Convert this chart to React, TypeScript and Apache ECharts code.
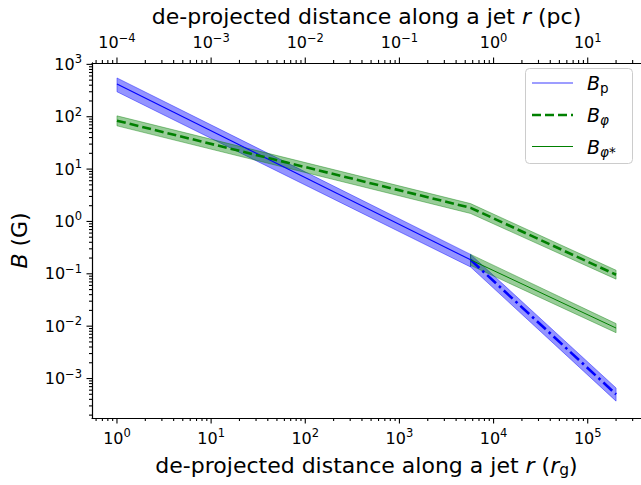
import React, { useEffect, useRef } from "react";
import * as echarts from "echarts";

// ---- axis ticks / labels ----
const rgTicks = [1, 10, 100, 1000, 1e4, 1e5];
const pcTicks = [1e-4, 1e-3, 1e-2, 1e-1, 1, 10];
const bTicks = [1e-3, 1e-2, 1e-1, 1, 10, 100, 1000];
const rgToPc = 1e-4;

// ---- data ----
// B_p, inner part (solid)
const rInner = [1, 5700];
const bpInner = [424, 0.185];
const bpInnerLo = [300, 0.135];
const bpInnerHi = [550, 0.235];
// B_p, outer part (dash-dot)
const rOuter = [5700, 2e5];
const bpOuter = [0.185, 5.0e-4];
const bpOuterLo = [0.135, 3.7e-4];
const bpOuterHi = [0.235, 6.6e-4];
// B_phi (dashed)
const rPhi = [1, 5700, 2e5];
const bphi = [84, 1.82, 0.096];
const bphiLo = [67, 1.42, 0.079];
const bphiHi = [104, 2.19, 0.117];
// B_phi* (thin solid)
const rPhiStar = [5700, 2e5];
const bphiStar = [0.185, 9.2e-3];
const bphiStarLo = [0.145, 7.5e-3];
const bphiStarHi = [0.235, 0.0112];

const xMin = 0.543;
const xMax = 3.68e5;
const yMin = 1.762e-4;
const yMax = 1067;

const FONT = "DejaVu Sans";
const BLUE = "#0000ff";
const GREEN = "#008000";
const BLUE_FILL = "rgba(0,0,255,0.42)";
const GREEN_FILL = "rgba(0,128,0,0.4)";

function pairs(xs: number[], ys: number[]) {
  return xs.map((x, i) => [x, ys[i]]);
}

function bandSeries(xs: number[], lo: number[], hi: number[], fill: string) {
  return {
    type: "custom",
    xAxisIndex: 0,
    yAxisIndex: 0,
    silent: true,
    z: 1,
    data: [[xs[0], lo[0]]],
    renderItem: (params: any, api: any) => {
      const pts: number[][] = [];
      for (let i = 0; i < xs.length; i++) pts.push(api.coord([xs[i], lo[i]]));
      for (let i = xs.length - 1; i >= 0; i--) pts.push(api.coord([xs[i], hi[i]]));
      return {
        type: "polygon",
        shape: { points: pts },
        style: { fill, stroke: fill, lineWidth: 1 },
      };
    },
  };
}

function minorValues(lo: number, hi: number) {
  const out: number[] = [];
  for (let e = -6; e <= 6; e++) {
    for (let m = 2; m <= 9; m++) {
      const v = m * Math.pow(10, e);
      if (v > lo && v < hi) out.push(v);
    }
  }
  return out;
}

const tickSeries = {
  type: "custom",
  xAxisIndex: 0,
  yAxisIndex: 0,
  silent: true,
  clip: false,
  z: 5,
  data: [[1, 1]],
  renderItem: (params: any, api: any) => {
    const cs = params.coordSys;
    const children: any[] = [];
    const bottom = cs.y + cs.height;
    const top = cs.y;
    const left = cs.x;
    const st = { stroke: "#000", lineWidth: 1.1 };
    const addX = (v: number, len: number) => {
      const x = api.coord([v, 1])[0];
      if (x < left - 0.5 || x > 641) return;
      children.push({ type: "line", shape: { x1: x, y1: bottom, x2: x, y2: bottom + len }, style: st });
      children.push({ type: "line", shape: { x1: x, y1: top, x2: x, y2: top - len }, style: st });
    };
    const addY = (v: number, len: number) => {
      const y = api.coord([1, v])[1];
      if (y < top - 0.5 || y > bottom + 0.5) return;
      children.push({ type: "line", shape: { x1: left, y1: y, x2: left - len, y2: y }, style: st });
    };
    rgTicks.forEach((v) => addX(v, 5.5));
    minorValues(xMin, xMax).forEach((v) => addX(v, 3));
    bTicks.forEach((v) => addY(v, 5.5));
    minorValues(yMin, yMax).forEach((v) => addY(v, 3));
    return { type: "group", children };
  },
};

const supLabel = (v: number) => {
  const e = Math.round(Math.log10(v));
  const s = e < 0 ? "\u2212" + Math.abs(e) : String(e);
  return "{n|10}{e|" + s + "}";
};
const labelRich = {
  n: { fontFamily: FONT, fontSize: 16, lineHeight: 22, color: "#000" },
  e: { fontFamily: FONT, fontSize: 11.5, lineHeight: 12, verticalAlign: "top", color: "#000" },
};
const nameRich = {
  t: { fontFamily: FONT, fontSize: 22, lineHeight: 26, color: "#000" },
  i: { fontFamily: FONT, fontSize: 22, lineHeight: 26, fontStyle: "italic", color: "#000" },
  s: { fontFamily: FONT, fontSize: 15.5, lineHeight: 16, verticalAlign: "bottom", color: "#000" },
};
const legRich = {
  b: { fontFamily: FONT, fontSize: 19, lineHeight: 24, fontStyle: "italic", color: "#000" },
  s: { fontFamily: FONT, fontSize: 13.5, lineHeight: 14, verticalAlign: "bottom", color: "#000" },
  si: { fontFamily: FONT, fontSize: 13.5, lineHeight: 14, verticalAlign: "bottom", fontStyle: "italic", color: "#000" },
};

const axisLine = { show: true, lineStyle: { color: "#000", width: 1.2 } };

const mkLabel = (vals: number[], margin: number) => ({
  showMinLabel: true,
  showMaxLabel: true,
  hideOverlap: false,
  margin,
  formatter: supLabel,
  rich: labelRich,
  customValues: vals,
});

export default function App() {
  const ref = useRef<HTMLDivElement>(null);
  useEffect(() => {
    if (!ref.current) return;
    const chart = echarts.init(ref.current, undefined, { renderer: "svg" });
    const legY = [83, 115, 146.5];
    chart.setOption({
      animation: false,
      backgroundColor: "#fff",
      grid: { left: 88, top: 58, width: 557, height: 360, containLabel: false },
      xAxis: [
        {
          type: "log",
          position: "bottom",
          min: xMin,
          max: xMax,
          logBase: 10,
          axisLine,
          axisTick: { show: false },
          splitLine: { show: false },
          axisLabel: mkLabel(rgTicks, 9),
          name: "{t|de-projected distance along a jet }{i|r}{t| (}{i|r}{s|g}{t|)}",
          nameLocation: "middle",
          nameGap: 34,
          nameTextStyle: { rich: nameRich },
        },
        {
          type: "log",
          position: "top",
          min: xMin * rgToPc,
          max: xMax * rgToPc,
          logBase: 10,
          axisLine,
          axisTick: { show: false },
          splitLine: { show: false },
          axisLabel: mkLabel(pcTicks, 9),
          name: "{t|de-projected distance along a jet }{i|r}{t| (pc)}",
          nameLocation: "middle",
          nameGap: 29,
          nameTextStyle: { rich: nameRich },
        },
      ],
      yAxis: {
        type: "log",
        min: yMin,
        max: yMax,
        logBase: 10,
        axisLine,
        axisTick: { show: false },
        splitLine: { show: false },
        axisLabel: mkLabel(bTicks, 10),
        name: "{i|B}{t| (G)}",
        nameLocation: "middle",
        nameGap: 60,
        nameRotate: 90,
        nameTextStyle: { rich: nameRich },
      },
      graphic: [
        {
          type: "rect",
          z: 100,
          shape: { x: 525.5, y: 68.5, width: 107, height: 95, r: 4 },
          style: { fill: "rgba(255,255,255,0.8)", stroke: "#cccccc", lineWidth: 1 },
        },
        {
          type: "line",
          z: 101,
          shape: { x1: 532, y1: legY[0], x2: 573, y2: legY[0] },
          style: { stroke: "#3c3cff", lineWidth: 1.2 },
        },
        {
          type: "line",
          z: 101,
          shape: { x1: 532, y1: legY[1], x2: 573, y2: legY[1] },
          style: { stroke: GREEN, lineWidth: 2.6, lineDash: [9, 4] },
        },
        {
          type: "line",
          z: 101,
          shape: { x1: 532, y1: legY[2], x2: 573, y2: legY[2] },
          style: { stroke: GREEN, lineWidth: 1 },
        },
        {
          type: "text",
          z: 101,
          x: 587,
          y: legY[0],
          style: { text: "{b|B}{s|p}", rich: legRich, verticalAlign: "middle", align: "left" },
        },
        {
          type: "text",
          z: 101,
          x: 587,
          y: legY[1],
          style: { text: "{b|B}{si|\u03c6}", rich: legRich, verticalAlign: "middle", align: "left" },
        },
        {
          type: "text",
          z: 101,
          x: 587,
          y: legY[2],
          style: { text: "{b|B}{si|\u03c6}{s|*}", rich: legRich, verticalAlign: "middle", align: "left" },
        },
      ],
      series: [
        bandSeries(rInner, bpInnerLo, bpInnerHi, BLUE_FILL),
        bandSeries(rOuter, bpOuterLo, bpOuterHi, BLUE_FILL),
        bandSeries(rPhi, bphiLo, bphiHi, GREEN_FILL),
        bandSeries(rPhiStar, bphiStarLo, bphiStarHi, GREEN_FILL),
        {
          type: "line",
          name: "Bp",
          data: pairs(rInner, bpInner),
          symbol: "none",
          z: 3,
          lineStyle: { color: BLUE, width: 1.1 },
        },
        {
          type: "line",
          name: "Bp outer",
          data: pairs(rOuter, bpOuter),
          symbol: "none",
          z: 3,
          lineStyle: { color: BLUE, width: 2.6, type: [12, 4, 2.6, 4] },
        },
        {
          type: "line",
          name: "Bphi",
          data: pairs(rPhi, bphi),
          symbol: "none",
          z: 3,
          lineStyle: { color: GREEN, width: 2.6, type: [9, 4] },
        },
        {
          type: "line",
          name: "Bphi*",
          data: pairs(rPhiStar, bphiStar),
          symbol: "none",
          z: 3,
          lineStyle: { color: GREEN, width: 1 },
        },
        tickSeries,
      ],
    });
    return () => chart.dispose();
  }, []);
  return (
    <div
      ref={ref}
      style={{ position: "absolute", left: 0, top: 0, width: 641, height: 485, background: "#fff" }}
    />
  );
}
